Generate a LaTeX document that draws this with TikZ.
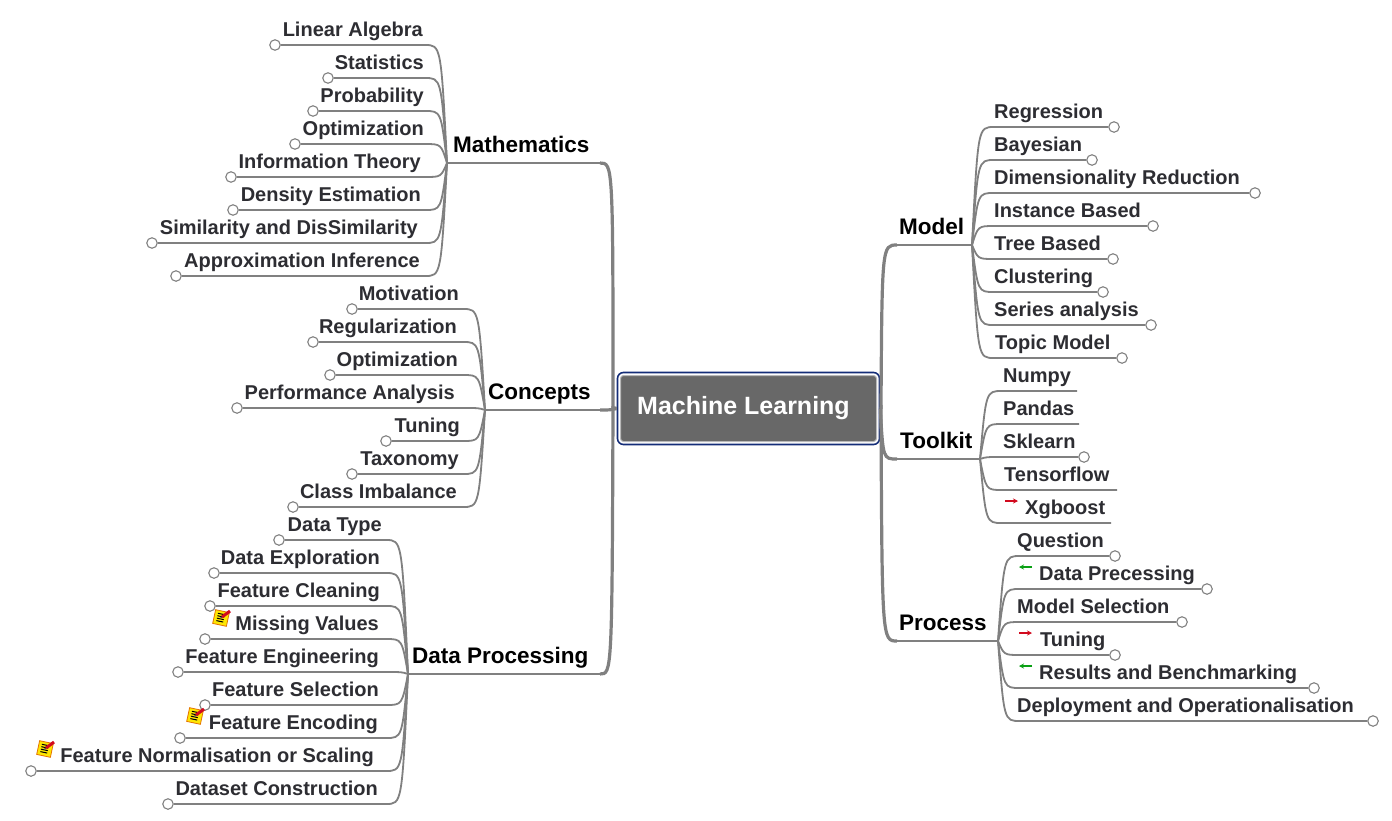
\documentclass[tikz,border=0pt]{standalone}
\usepackage{fontspec}
\setmainfont{Liberation Sans}
\usetikzlibrary{arrows.meta,calc,positioning}
\definecolor{leafink}{RGB}{45,45,50}
\definecolor{branchgray}{RGB}{128,128,128}
\definecolor{rootgray}{RGB}{104,104,104}
\definecolor{rootnavy}{RGB}{20,45,120}
\definecolor{markred}{RGB}{210,10,30}
\definecolor{markgreen}{RGB}{10,160,20}
\tikzset{
  leaftext/.style={inner sep=0pt,text=leafink,font=\fontsize{20}{24}\selectfont\bfseries},
  branchtext/.style={inner sep=0pt,text=black,font=\fontsize{22.5}{26}\selectfont\bfseries},
  leafdot/.style={circle,draw=branchgray,fill=white,line width=1.1pt,minimum size=10.5pt,inner sep=0pt},
  leafline/.style={draw=branchgray,line width=1.8pt},
  underline/.style={draw=branchgray,line width=1.5pt},
  trunkline/.style={draw=branchgray,line width=3.2pt},
  rootbox/.style={draw=rootnavy,line width=1.6pt,fill=white,rounded corners=6pt,minimum width=262pt,minimum height=72pt,inner sep=0pt},
  rootfill/.style={draw=gray!55,line width=1pt,fill=rootgray,rounded corners=3pt,minimum width=256pt,minimum height=66pt,inner sep=0pt},
  roottext/.style={inner sep=0pt,text=white,font=\fontsize{25}{29}\selectfont\bfseries},
  markarrow/.style={-{Stealth[length=5pt,width=5pt]},line width=1.4pt},
  noteicon/.pic={
    \fill[yellow!90!orange,draw=orange!90!black,line width=0.8pt,rotate=-12] (-7,-7) rectangle (7,7);
    \foreach \k in {-4,-1.5,1,3.5}
      \draw[black,line width=1pt,rotate=-12] (-4,\k) -- (3,\k);
    \draw[markred,line width=3pt] (1,-1) -- (9,-7);
    \draw[black!70,line width=1pt] (-1,0.5) -- (1,-1);
  },
}

\begin{document}
\begin{tikzpicture}[x=1pt,y=-1pt]
  \useasboundingbox (0,0) rectangle (1392,820);
  \fill[white] (0,0) rectangle (1392,820);

  \node[rootbox] (root) at (748.5,408.5) {};
  \node[rootfill] (rootin) at (root) {};
  \node[roottext] (roottxt) at (743.5,408) {Machine Learning};

  % left side
  \node[branchtext,anchor=base west] (math) at (453,152) {Mathematics};
  \coordinate (mathhub) at (447,163);
  \coordinate (mathbend) at (600,163);
  \draw[underline] (mathhub) -- (mathbend);
  \draw[trunkline] (root.west) -- (613,408) .. controls (613,163) .. (mathbend);
  \foreach \ly/\cx/\rx/\txt [count=\i] in {
    45/275/423/Linear Algebra,
    78/328/424/Statistics,
    111/313/424/Probability,
    144/295/424/Optimization,
    177/231/421/Information Theory,
    210/233/421/Density Estimation,
    243/152/418/Similarity and DisSimilarity,
    276/176/420/Approximation Inference} {
    \node[leaftext,anchor=base east] (math\i) at (\rx,\ly-9) {\txt};
    \node[leafdot] (mathdot\i) at (\cx,\ly) {};
    \draw[leafline] (mathhub) .. controls (441,\ly) .. (425,\ly) -- (mathdot\i);
  }

  \node[branchtext,anchor=base west] (conc) at (488,399) {Concepts};
  \coordinate (conchub) at (485,410);
  \coordinate (concbend) at (600,410);
  \draw[underline] (conchub) -- (concbend);
  \draw[trunkline] (root.west) .. controls (610,410) .. (concbend);
  \foreach \ly/\cx/\rx/\txt [count=\i] in {
    309/352/459/Motivation,
    342/313/457/Regularization,
    375/330/458/Optimization,
    408/237/455/Performance Analysis,
    441/386/460/Tuning,
    474/352/459/Taxonomy,
    507/293/457/Class Imbalance} {
    \node[leaftext,anchor=base east] (conc\i) at (\rx,\ly-9) {\txt};
    \node[leafdot] (concdot\i) at (\cx,\ly) {};
    \draw[leafline] (conchub) .. controls (479,\ly) .. (463,\ly) -- (concdot\i);
  }

  \node[branchtext,anchor=base west] (data) at (412,663) {Data Processing};
  \coordinate (datahub) at (408,674);
  \coordinate (databend) at (600,674);
  \draw[underline] (datahub) -- (databend);
  \draw[trunkline] (root.west) -- (613,408) .. controls (612,674) .. (databend);
  \foreach \ly/\cx/\rx/\txt [count=\i] in {
    540/279/382/Data Type,
    573/214/380/Data Exploration,
    606/210/380/Feature Cleaning,
    639/205/379/Missing Values,
    672/178/379/Feature Engineering,
    705/205/379/Feature Selection,
    738/180/378/Feature Encoding,
    771/31/374/Feature Normalisation or Scaling,
    804/168/378/Dataset Construction} {
    \node[leaftext,anchor=base east] (data\i) at (\rx,\ly-9) {\txt};
    \node[leafdot] (datadot\i) at (\cx,\ly) {};
    \draw[leafline] (datahub) .. controls (402,\ly) .. (386,\ly) -- (datadot\i);
  }
  \pic at (221,618) {noteicon};
  \pic at (195,716) {noteicon};
  \pic at (45,749) {noteicon};

  % right side
  \node[branchtext,anchor=base west] (model) at (899,234) {Model};
  \coordinate (modelhub) at (972,245);
  \coordinate (modelbend) at (897,245);
  \draw[underline] (modelbend) -- (modelhub);
  \draw[trunkline] (root.east) -- (881,408) .. controls (882,245) .. (modelbend);
  \foreach \ly/\cx/\lx/\txt [count=\i] in {
    127/1114/994/Regression,
    160/1092/994/Bayesian,
    193/1255/994/Dimensionality Reduction,
    226/1153/994/Instance Based,
    259/1113/994/Tree Based,
    292/1103/994/Clustering,
    325/1151/994/Series analysis,
    358/1122/995/Topic Model} {
    \node[leaftext,anchor=base west] (model\i) at (\lx,\ly-9) {\txt};
    \node[leafdot] (modeldot\i) at (\cx,\ly) {};
    \draw[leafline] (modelhub) .. controls (978,\ly) .. (994,\ly) -- (modeldot\i);
  }

  \node[branchtext,anchor=base west] (tool) at (900,448) {Toolkit};
  \coordinate (toolhub) at (980,459);
  \coordinate (toolbend) at (897,459);
  \draw[underline] (toolbend) -- (toolhub);
  \draw[trunkline] (root.east) .. controls (883,459) .. (toolbend);
  \foreach \ly/\ex/\lx/\txt [count=\i] in {
    391/1077/1003/Numpy,
    424/1079/1003/Pandas,
    490/1117/1004/Tensorflow,
    523/1111/1025/Xgboost} {
    \node[leaftext,anchor=base west] (tool\i) at (\lx,\ly-9) {\txt};
    \coordinate (toolend\i) at (\ex,\ly);
    \draw[leafline] (toolhub) .. controls (986,\ly) .. (1002,\ly) -- (toolend\i);
  }
  \node[leaftext,anchor=base west] (sklearn) at (1003,448) {Sklearn};
  \node[leafdot] (sklearndot) at (1084,457) {};
  \draw[leafline] (toolhub) .. controls (986,457) .. (1002,457) -- (sklearndot);
  \draw[markarrow,markred] (1005,501) -- (1018,501);

  \node[branchtext,anchor=base west] (proc) at (899,630) {Process};
  \coordinate (prochub) at (998,641);
  \coordinate (procbend) at (897,641);
  \draw[underline] (procbend) -- (prochub);
  \draw[trunkline] (root.east) -- (881,408) .. controls (882,641) .. (procbend);
  \foreach \ly/\cx/\lx/\txt [count=\i] in {
    556/1115/1017/Question,
    589/1207/1039/Data Precessing,
    622/1182/1017/Model Selection,
    655/1115/1040/Tuning,
    688/1314/1039/Results and Benchmarking,
    721/1373/1017/Deployment and Operationalisation} {
    \node[leaftext,anchor=base west] (proc\i) at (\lx,\ly-9) {\txt};
    \node[leafdot] (procdot\i) at (\cx,\ly) {};
    \draw[leafline] (prochub) .. controls (1004,\ly) .. (1020,\ly) -- (procdot\i);
  }
  \draw[markarrow,markgreen] (1032,567) -- (1019,567);
  \draw[markarrow,markred] (1019,633) -- (1032,633);
  \draw[markarrow,markgreen] (1032,666) -- (1019,666);
\end{tikzpicture}
\end{document}
